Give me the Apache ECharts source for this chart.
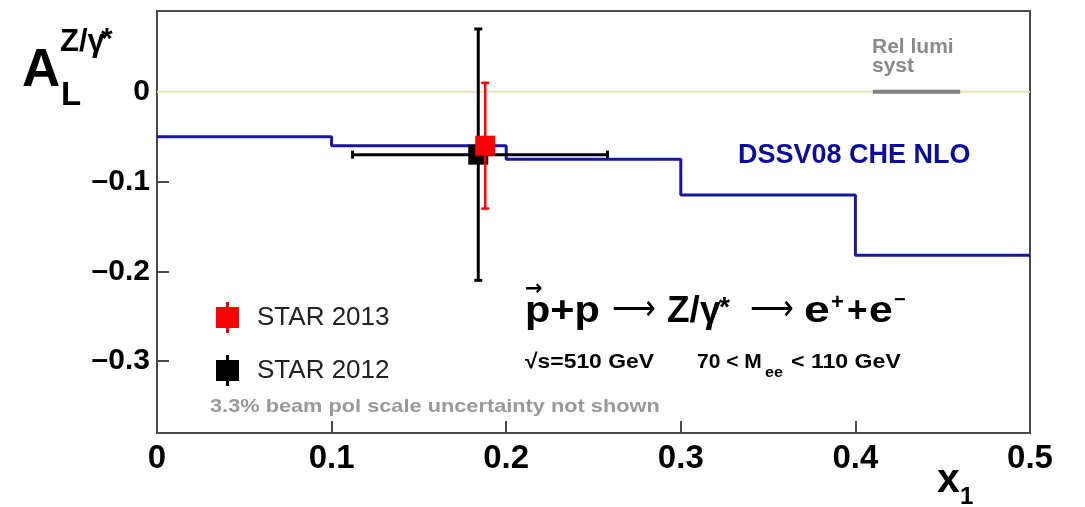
<!DOCTYPE html>
<html>
<head>
<meta charset="utf-8">
<script src="https://cdn.jsdelivr.net/npm/echarts@6/dist/echarts.min.js"></script>
<style>
  html, body { margin: 0; padding: 0; background: #fff; }
  #chart { width: 1085px; height: 507px; }
</style>
</head>
<body>
<div id="chart"></div>
<script>
// Axis ticks
const xTicks = [0, 0.1, 0.2, 0.3, 0.4, 0.5];
const yTicks = [-0.3, -0.2, -0.1, 0];

// DSSV08 CHE NLO prediction: bin edges in x1 and A_L per bin
const dssvEdges = [0, 0.1, 0.2, 0.3, 0.4, 0.5];
const dssvValues = [-0.050, -0.060, -0.075, -0.115, -0.182];

// STAR 2013 measurement
const star2013X = [0.188];
const star2013A = [-0.060];
const star2013Err = [0.070];

// STAR 2012 measurement (with x1 range)
const star2012X = [0.184];
const star2012A = [-0.070];
const star2012Err = [0.140];
const star2012XLo = [0.112];
const star2012XHi = [0.258];

// Relative luminosity systematic band (x extent, drawn at zero)
const lumiX = [0.41, 0.46];

const FONT = '"Liberation Sans", Arial, Helvetica, sans-serif';

// step line points: each bin value starts at its left edge, last value repeated at the right edge
const dssvPoints = dssvValues.map((v, i) => [dssvEdges[i], v]);
dssvPoints.push([dssvEdges[dssvEdges.length - 1], dssvValues[dssvValues.length - 1]]);

function makeErrRender(xs, ys, errs, xLo, xHi, lw) {
  return function (params, api) {
    const i = params.dataIndex;
    const color = api.visual('color');
    const c = api.coord([xs[i], ys[i]]);
    const top = api.coord([xs[i], ys[i] + errs[i]]);
    const bot = api.coord([xs[i], ys[i] - errs[i]]);
    const st = { stroke: color, lineWidth: lw };
    const cap = 4;
    const children = [];
    if (xLo && xHi) {
      const l = api.coord([xLo[i], ys[i]]);
      const r = api.coord([xHi[i], ys[i]]);
      children.push({ type: 'line', shape: { x1: l[0], y1: l[1], x2: r[0], y2: r[1] }, style: st });
      children.push({ type: 'line', shape: { x1: l[0], y1: l[1] - cap, x2: l[0], y2: l[1] + cap }, style: st });
      children.push({ type: 'line', shape: { x1: r[0], y1: r[1] - cap, x2: r[0], y2: r[1] + cap }, style: st });
    }
    children.push({ type: 'line', shape: { x1: top[0], y1: top[1], x2: bot[0], y2: bot[1] }, style: st });
    children.push({ type: 'line', shape: { x1: top[0] - cap, y1: top[1], x2: top[0] + cap, y2: top[1] }, style: st });
    children.push({ type: 'line', shape: { x1: bot[0] - cap, y1: bot[1], x2: bot[0] + cap, y2: bot[1] }, style: st });
    const s = 20;
    children.push({ type: 'rect', shape: { x: c[0] - s / 2, y: c[1] - s / 2, width: s, height: s }, style: { fill: color } });
    return { type: 'group', children: children };
  };
}

// text placed by its baseline, optionally stretched horizontally
function txt(text, x, base, size, fill, weight, family, sx) {
  return {
    type: 'text', x: x, y: base - 0.35 * size, scaleX: sx || 1, silent: true, z: 100,
    style: {
      text: text, fill: fill || '#000',
      font: (weight || 'bold') + ' ' + size + 'px ' + (family || FONT),
      verticalAlign: 'middle', align: 'left'
    }
  };
}

const legendIcon = 'path://M10,0H13V5H23V26H13V31H10V26H0V5H10Z';

const chart = echarts.init(document.getElementById('chart'), null, { renderer: 'canvas' });
chart.setOption({
  animation: false,
  backgroundColor: '#fff',
  grid: { left: 157, right: 55, top: 11, bottom: 74, show: true, borderColor: '#4a4a4a', borderWidth: 2, backgroundColor: 'transparent' },
  xAxis: {
    type: 'value', min: xTicks[0], max: xTicks[xTicks.length - 1], interval: 0.1,
    axisLine: { show: true, onZero: false, lineStyle: { color: '#4a4a4a', width: 2 } },
    axisTick: { show: true, inside: true, length: 12, lineStyle: { color: '#4a4a4a', width: 2 } },
    axisLabel: {
      show: true, margin: 9, color: '#000', fontSize: 33, fontWeight: 'bold', fontFamily: FONT,
      showMinLabel: true, showMaxLabel: true,
      formatter: v => (Math.abs(v) < 1e-9 ? '0' : v.toFixed(1))
    },
    splitLine: { show: false }
  },
  yAxis: {
    type: 'value', min: -0.38, max: 0.09,
    axisLine: { show: true, onZero: false, lineStyle: { color: '#4a4a4a', width: 2 } },
    axisTick: { show: true, inside: true, length: 12, customValues: yTicks.filter(v => v !== 0), lineStyle: { color: '#4a4a4a', width: 2 } },
    axisLabel: {
      show: true, margin: 7, color: '#000', fontSize: 30, fontWeight: 'bold', fontFamily: FONT,
      customValues: yTicks,
      formatter: v => (Math.abs(v) < 1e-9 ? '0' : '\u2013' + Math.abs(v).toFixed(1))
    },
    splitLine: { show: false }
  },
  legend: {
    orient: 'vertical', left: 211, top: 297, itemGap: 22,
    itemWidth: 23, itemHeight: 31, selectedMode: false,
    textStyle: { fontSize: 26, fontFamily: FONT, color: '#222', padding: [0, 0, 0, 13] },
    data: [
      { name: 'STAR 2013', icon: legendIcon },
      { name: 'STAR 2012', icon: legendIcon }
    ]
  },
  series: [
    {
      name: 'zero', type: 'line', silent: true, symbol: 'none', z: 1,
      lineStyle: { color: '#e6e2b4', width: 2 },
      data: [[xTicks[0], 0], [xTicks[xTicks.length - 1], 0]]
    },
    {
      name: 'Rel lumi syst', type: 'line', silent: true, symbol: 'none', z: 2,
      lineStyle: { color: '#808080', width: 4 },
      data: [[lumiX[0], 0], [lumiX[1], 0]]
    },
    {
      name: 'DSSV08 CHE NLO', type: 'line', step: 'end', silent: true, symbol: 'none', z: 3,
      lineStyle: { color: '#1616a6', width: 3 },
      data: dssvPoints
    },
    {
      name: 'STAR 2012', type: 'custom', z: 4, itemStyle: { color: '#000000' },
      renderItem: makeErrRender(star2012X, star2012A, star2012Err, star2012XLo, star2012XHi, 3),
      data: star2012X.map((x, i) => [x, star2012A[i]])
    },
    {
      name: 'STAR 2013', type: 'custom', z: 5, itemStyle: { color: '#ff0000' },
      renderItem: makeErrRender(star2013X, star2013A, star2013Err, null, null, 2.5),
      data: star2013X.map((x, i) => [x, star2013A[i]])
    }
  ],
  graphic: [
    // y-axis title A_L^{Z/γ*}
    txt('A', 22, 90, 53),
    txt('L', 61, 107, 33),
    txt('Z/\u03b3', 60, 53, 31),
    txt('*', 101, 50, 30),
    // x-axis title x_1
    txt('x', 937, 495, 41),
    txt('1', 960, 506, 24),
    // relative luminosity label
    txt('Rel lumi', 872, 55, 21, '#8a8a8a'),
    txt('syst', 872, 74, 21, '#8a8a8a'),
    // theory curve label
    txt('DSSV08 CHE NLO', 738, 165, 27, '#0c0c9c'),
    // process
    txt('\u2192', 525, 297, 21, '#000', 'bold', '"DejaVu Sans"'),
    txt('p+p', 525, 325, 37, '#000', 'bold', null, 1.12),
    txt('\u27f6', 612, 323, 36, '#000', 'normal', '"DejaVu Sans"', 0.85),
    txt('Z/\u03b3', 667, 325, 37),
    txt('*', 719, 318, 28),
    txt('\u27f6', 750, 323, 36, '#000', 'normal', '"DejaVu Sans"', 0.85),
    txt('e', 804, 325, 37, '#000', 'bold', null, 1.25),
    txt('+', 831, 311, 22),
    txt('+', 847, 325, 37, '#000', 'bold', null, 0.95),
    txt('e', 869, 325, 37, '#000', 'bold', null, 1.15),
    txt('\u2212', 894, 307, 20),
    txt('\u221as=510 GeV', 525, 370, 21, '#000', 'bold', null, 1.09),
    txt('70 < M', 697, 370, 21),
    txt('ee', 765, 378, 14, '#000', 'bold', null, 1.15),
    txt('< 110 GeV', 791, 370, 21, '#000', 'bold', null, 1.1),
    // note
    txt('3.3% beam pol scale uncertainty not shown', 210, 413, 19, '#999999', 'bold', null, 1.145)
  ]
});
</script>
</body>
</html>
